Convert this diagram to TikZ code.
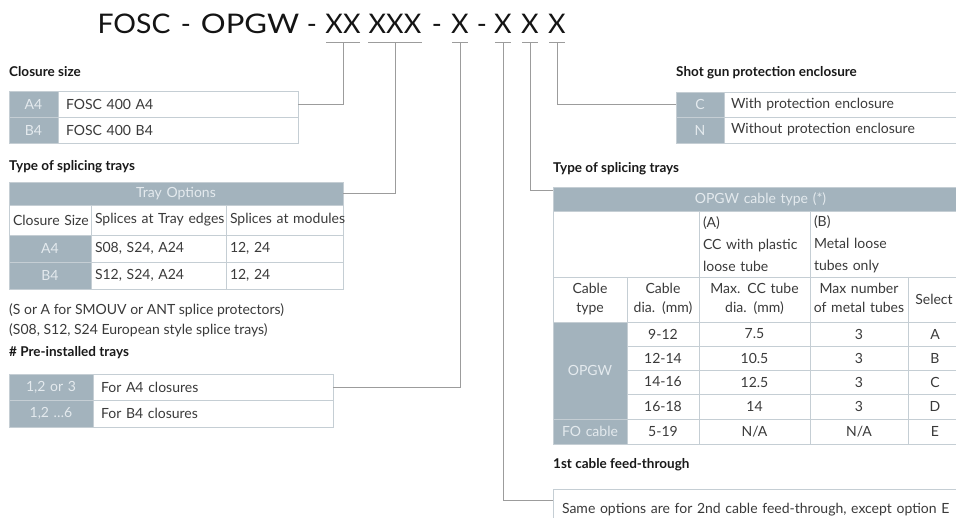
\documentclass[tikz,border=0pt]{standalone}
\usepackage{fontspec}
\setmainfont{Lato}
\definecolor{gcell}{HTML}{A3B3BD}
\definecolor{gtext}{HTML}{E4EAEE}
\definecolor{bord}{HTML}{C5CED4}
\definecolor{conncol}{HTML}{9C9C9C}
\definecolor{txt}{HTML}{3A3A3A}
\newcommand{\tcell}[7]{%
  \pgfmathsetmacro{\tcw}{#4-8}%
  \node[cellbase,minimum width=#4pt,minimum height=#5pt,text width=\tcw pt,#6] (#1) at ({#2+#4/2},{#3+#5/2}) {#7};}
\newcommand{\twolines}[2]{\makebox[\linewidth][c]{\begin{tabular}{@{}c@{}}#1\\#2\end{tabular}}}
\begin{document}
\begin{tikzpicture}[x=1pt,y=-1pt,
  cellbase/.style={draw=bord, line width=0.9pt, inner xsep=4pt, inner ysep=0pt,
    font=\fontsize{14}{17}\selectfont, text=txt, align=left},
  grey/.style={fill=gcell, text=gtext, align=center},
  ctr/.style={align=center},
  twol/.style={align=center, font=\fontsize{14}{19}\selectfont},
  threel/.style={font=\fontsize{14}{22}\selectfont},
  head/.style={anchor=west, inner sep=0pt, font=\fontsize{13.5}{16}\selectfont\bfseries, text=black!90},
  note/.style={anchor=west, inner sep=0pt, font=\fontsize{14}{17}\selectfont, text=txt},
  conn/.style={draw=conncol, line width=1pt},
  ttl/.style={anchor=base, inner sep=0pt, font=\fontsize{27}{32}\selectfont, text=black!92}]
\useasboundingbox (0,0) rectangle (956,517);
\clip (0,0) rectangle (956,517);
\fill[white] (0,0) rectangle (956,517);

% ---------- title ----------
\node[ttl, xscale=1.05] (tF) at (134,33) {FOSC};
\node[ttl] (tm0) at (186,33) {-};
\node[ttl, xscale=1.15] (tO) at (250,33) {OPGW};
\node[ttl] (tm00) at (312,33) {-};
\node[ttl] (tXX) at (343,33) {XX};
\node[ttl] (tXXX) at (395,33) {XXX};
\node[ttl] (tm1) at (437,33) {-};
\node[ttl] (tX1) at (460,33) {X};
\node[ttl] (tm2) at (482,33) {-};
\node[ttl] (tX2) at (503,33) {X};
\node[ttl] (tX3) at (530,33) {X};
\node[ttl] (tX4) at (557,33) {X};

\coordinate (k1) at (343,42);
\coordinate (k2) at (395,42);
\coordinate (k3) at (460,42);
\coordinate (k4) at (503,42);
\coordinate (k5) at (530,42);
\coordinate (k6) at (557,42);
\draw[conn] ([xshift=-17pt]k1) -- ([xshift=17pt]k1);
\draw[conn] ([xshift=-27pt]k2) -- ([xshift=27pt]k2);
\draw[conn] ([xshift=-8pt]k3) -- ([xshift=8pt]k3);
\draw[conn] ([xshift=-8pt]k4) -- ([xshift=8pt]k4);
\draw[conn] ([xshift=-8pt]k5) -- ([xshift=8pt]k5);
\draw[conn] ([xshift=-8pt]k6) -- ([xshift=8pt]k6);

% ---------- headings ----------
\node[head] (hclos) at (9,72) {Closure size};
\node[head] (htray) at (9,167) {Type of splicing trays};
\node[note] (n1) at (9,310) {(S or A for SMOUV or ANT splice protectors)};
\node[note] (n2) at (9,330) {(S08, S12, S24 European style splice trays)};
\node[head] (hpre) at (9,353) {\# Pre-installed trays};
\node[head] (hshot) at (676,73) {Shot gun protection enclosure};
\node[head] (htray2) at (553,169) {Type of splicing trays};
\node[head] (hfeed) at (553,465) {1st cable feed-through};

% ---------- closure size ----------
\tcell{cA4g}{9}{91}{49}{26}{grey}{A4}
\tcell{cA4}{58}{91}{240}{26}{}{\hspace*{4pt}FOSC 400 A4}
\tcell{cB4g}{9}{117}{49}{26}{grey}{B4}
\tcell{cB4}{58}{117}{240}{26}{}{\hspace*{4pt}FOSC 400 B4}

% ---------- tray options ----------
\tcell{trayhead}{9}{182}{334}{23}{grey}{Tray Options}
\tcell{trh1}{9}{205}{82}{30}{ctr}{\mbox{Closure Size}}
\tcell{trh2}{91}{205}{135}{30}{}{\mbox{Splices at Tray edges}}
\tcell{trh3}{226}{205}{117}{30}{}{\mbox{Splices at modules}}
\tcell{trA1}{9}{235}{82}{27}{grey}{A4}
\tcell{trA2}{91}{235}{135}{27}{}{S08, S24, A24}
\tcell{trA3}{226}{235}{117}{27}{}{12, 24}
\tcell{trB1}{9}{262}{82}{27}{grey}{B4}
\tcell{trB2}{91}{262}{135}{27}{}{S12, S24, A24}
\tcell{trB3}{226}{262}{117}{27}{}{12, 24}

% ---------- pre-installed trays ----------
\tcell{pre1g}{9}{374}{84}{26}{grey}{1,2 or 3}
\tcell{pre1}{93}{374}{240}{26}{}{\hspace*{4pt}For A4 closures}
\tcell{pre2g}{9}{400}{84}{27}{grey}{1,2 …6}
\tcell{pre2}{93}{400}{240}{27}{}{\hspace*{4pt}For B4 closures}

% ---------- shot gun ----------
\tcell{shC}{676}{92}{48}{25}{grey}{C}
\tcell{shCt}{724}{92}{251}{25}{}{\hspace*{3pt}With protection enclosure}
\tcell{shN}{676}{117}{48}{26}{grey}{N}
\tcell{shNt}{724}{117}{251}{26}{}{\hspace*{3pt}Without protection enclosure}

% ---------- OPGW table ----------
\tcell{ohead}{553}{187}{415}{24}{grey}{OPGW cable type (*)}
\tcell{oe}{553}{211}{146}{66}{}{}
\tcell{oA}{699}{211}{111}{66}{threel}{(A)\\CC with plastic\\loose tube}
\tcell{oB}{810}{211}{158}{66}{threel}{(B)\\Metal loose\\tubes only}
\tcell{h1}{553}{277}{74}{45}{twol}{\twolines{Cable}{type}}
\tcell{h2}{627}{277}{72}{45}{twol}{\twolines{Cable}{dia. (mm)}}
\tcell{h3}{699}{277}{111}{45}{twol}{\twolines{Max. CC tube}{dia. (mm)}}
\tcell{h4}{810}{277}{98}{45}{twol}{\twolines{Max number}{of metal tubes}}
\tcell{h5}{908}{277}{60}{45}{ctr}{\hspace*{-8pt}Select}

\tcell{og}{553}{322}{74}{97}{grey}{OPGW}
\tcell{r1c2}{627}{322}{72}{24}{ctr}{9-12}
\tcell{r1c3}{699}{322}{111}{24}{ctr}{7.5}
\tcell{r1c4}{810}{322}{98}{24}{ctr}{3}
\tcell{r1c5}{908}{322}{60}{24}{ctr}{\hspace*{-6pt}A}
\tcell{r2c2}{627}{346}{72}{24}{ctr}{12-14}
\tcell{r2c3}{699}{346}{111}{24}{ctr}{10.5}
\tcell{r2c4}{810}{346}{98}{24}{ctr}{3}
\tcell{r2c5}{908}{346}{60}{24}{ctr}{\hspace*{-6pt}B}
\tcell{r3c2}{627}{370}{72}{24}{ctr}{14-16}
\tcell{r3c3}{699}{370}{111}{24}{ctr}{12.5}
\tcell{r3c4}{810}{370}{98}{24}{ctr}{3}
\tcell{r3c5}{908}{370}{60}{24}{ctr}{\hspace*{-6pt}C}
\tcell{r4c2}{627}{394}{72}{25}{ctr}{16-18}
\tcell{r4c3}{699}{394}{111}{25}{ctr}{14}
\tcell{r4c4}{810}{394}{98}{25}{ctr}{3}
\tcell{r4c5}{908}{394}{60}{25}{ctr}{\hspace*{-6pt}D}
\tcell{fog}{553}{419}{74}{25}{grey}{FO cable}
\tcell{r5c2}{627}{419}{72}{25}{ctr}{5-19}
\tcell{r5c3}{699}{419}{111}{25}{ctr}{N/A}
\tcell{r5c4}{810}{419}{98}{25}{ctr}{N/A}
\tcell{r5c5}{908}{419}{60}{25}{ctr}{\hspace*{-6pt}E}

% ---------- feed-through ----------
\tcell{feed}{553}{489}{415}{42}{}{\hspace*{5pt}Same options are for 2nd cable feed-through, except option E}

% ---------- connectors ----------
\coordinate (opin) at (553,190);
\coordinate (feedin) at (553,500);
\draw[conn] (k1) |- (cA4.east);
\draw[conn] (k2) |- (trayhead.east);
\draw[conn] (k3) |- (pre1.east);
\draw[conn] (k4) |- (feedin);
\draw[conn] (k5) |- (opin);
\draw[conn] (k6) |- (shC.west);
\end{tikzpicture}
\end{document}
